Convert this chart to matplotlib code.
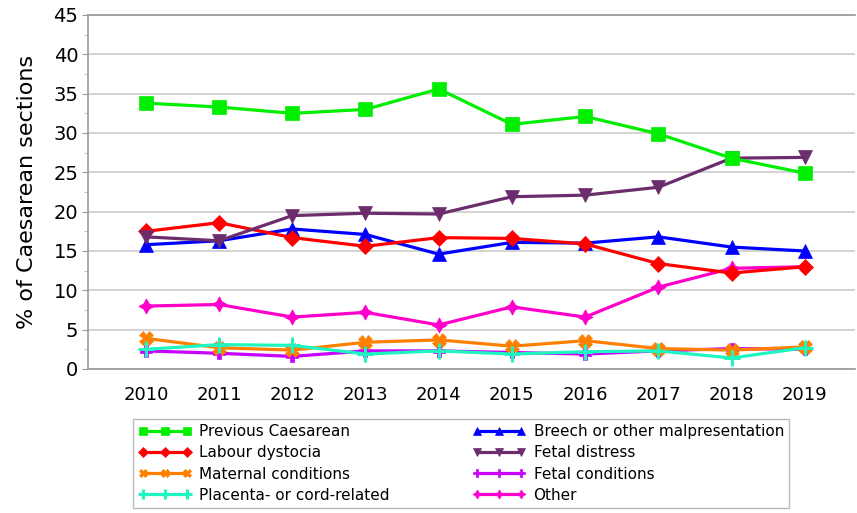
import matplotlib
matplotlib.use("Agg")
import matplotlib.pyplot as plt
from matplotlib.ticker import MultipleLocator

years = [2010, 2011, 2012, 2013, 2014, 2015, 2016, 2017, 2018, 2019]
previous_caesarean = [33.8, 33.3, 32.5, 33.0, 35.6, 31.1, 32.1, 29.9, 26.8, 24.9]
breech = [15.8, 16.3, 17.8, 17.1, 14.6, 16.1, 16.0, 16.8, 15.5, 15.0]
labour_dystocia = [17.5, 18.6, 16.7, 15.6, 16.7, 16.6, 15.9, 13.4, 12.2, 13.0]
fetal_distress = [16.8, 16.3, 19.5, 19.8, 19.7, 21.9, 22.1, 23.1, 26.8, 26.9]
maternal = [3.9, 2.7, 2.4, 3.4, 3.7, 2.9, 3.6, 2.6, 2.4, 2.8]
fetal_conditions = [2.3, 2.0, 1.6, 2.3, 2.3, 2.1, 1.9, 2.3, 2.6, 2.5]
placenta = [2.5, 3.1, 3.0, 1.9, 2.3, 1.9, 2.2, 2.3, 1.4, 2.7]
other = [8.0, 8.2, 6.6, 7.2, 5.6, 7.9, 6.6, 10.4, 12.8, 13.0]

labels = ["Previous Caesarean", "Labour dystocia", "Maternal conditions",
          "Placenta- or cord-related", "Breech or other malpresentation",
          "Fetal distress", "Fetal conditions", "Other"]

plt.rcParams['font.family'] = ['DejaVu Sans']

fig = plt.figure(figsize=(8.57, 5.13), dpi=100)
ax = fig.add_axes([88/857, 1-369/513, 1-88/857-0.002, (369-15)/513])

star4 = (4, 1, 0)
series = [
    (previous_caesarean, "#00EE00", "s", 10, 0),
    (labour_dystocia, "#FF0000", "D", 8, 0),
    (maternal, "#FF8000", "X", 10, 0),
    (placenta, "#1EF5C0", "+", 12, 2.2),
    (breech, "#0000FF", "^", 10, 0),
    (fetal_distress, "#6B2D6B", "v", 10, 0),
    (fetal_conditions, "#C800FF", "P", 9, 0),
    (other, "#FF00CC", star4, 11, 0),
]
zorders = [8, 6, 3, 4, 5, 7, 2, 5]

handles = []
for (vals, col, mk, ms, mew), lab, z in zip(series, labels, zorders):
    h, = ax.plot(years, vals, color=col, lw=2.3, marker=mk, markersize=ms,
                 markeredgewidth=mew if mew else 0.5, markeredgecolor=col,
                 markerfacecolor=col, label=lab, zorder=z)
    handles.append(h)

ax.set_ylim(0, 45)
ax.set_xlim(2009.21, 2019.69)
ax.set_xticks(years)
ax.set_xticklabels([str(y) for y in years], fontsize=13)
ax.yaxis.set_major_locator(MultipleLocator(5))
ax.yaxis.set_minor_locator(MultipleLocator(2.5))
ax.tick_params(axis='y', which='major', labelsize=14, length=4, color='#999999', pad=3)
ax.tick_params(axis='y', which='minor', length=3, color='#bbbbbb')
ax.tick_params(axis='x', length=0, pad=12)
ax.grid(axis='y', which='major', color='#cccccc', lw=1.2)
ax.set_axisbelow(True)
for s in ['left', 'bottom', 'top']:
    ax.spines[s].set_color('#999999')
    ax.spines[s].set_linewidth(1.2)
ax.spines['right'].set_visible(False)
ax.set_ylabel("% of Caesarean sections", fontsize=16, labelpad=12)

leg = fig.legend(handles=handles, labels=labels, ncol=2, loc='upper left',
                 bbox_to_anchor=(133/857, 1-419/513), borderaxespad=0,
                 fontsize=11, numpoints=3, handlelength=3.5, frameon=True,
                 fancybox=False, edgecolor='#aaaaaa', borderpad=0.35,
                 labelspacing=0.4, columnspacing=5.4, handletextpad=0.5,
                 markerscale=0.6)
leg.get_frame().set_linewidth(1.0)

fig.savefig("out.png", dpi=100)
